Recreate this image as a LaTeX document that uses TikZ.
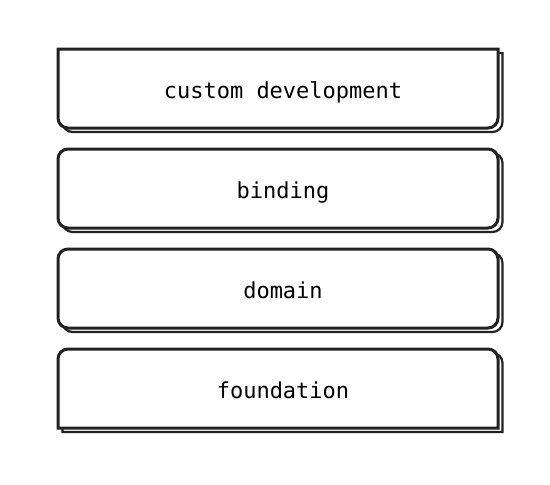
\documentclass[tikz,border=0pt]{standalone}
\usepackage{fontspec}
\setmonofont{DejaVu Sans Mono}
\usetikzlibrary{positioning,shadows,backgrounds}
\definecolor{boxline}{HTML}{222222}
\begin{document}
\begin{tikzpicture}[x=1pt,y=-1pt,
  every node/.style={font=\ttfamily\fontsize{22}{26}\selectfont},
  layer/.style={minimum width=440pt,minimum height=79pt,inner sep=0pt,outer sep=0pt,
    text height=19pt,text depth=0pt,execute at begin node=\hspace*{10pt}},
  box/.style={layer,draw=boxline,line width=3pt,fill=white,rounded corners=10pt,
    copy shadow={shadow xshift=4.5pt,shadow yshift=-4pt,draw=boxline,line width=2.2pt,fill=white}},
  edge/.style={draw=boxline,line width=3pt,fill=white,
    copy shadow={shadow xshift=4.5pt,shadow yshift=-4pt,draw=boxline,line width=2.2pt,fill=white}}]
\useasboundingbox (0,0) rectangle (550,485);
\node[layer] (custom) at (278,88.5) {custom development};
\node[box,below=21pt of custom] (binding) {binding};
\node[box,below=21pt of binding] (domain) {domain};
\node[layer,below=21pt of domain] (foundation) {foundation};
\begin{scope}[on background layer]
% top box: square top, round bottom
\draw[edge] (custom.north west) -- (custom.north east) -- ([yshift=10pt]custom.south east)
  arc[start angle=0,end angle=-90,radius=10pt] -- ([xshift=10pt]custom.south west)
  arc[start angle=270,end angle=180,radius=10pt] -- cycle;
% bottom box: round top, square bottom
\draw[edge] (foundation.south west) -- ([yshift=-10pt]foundation.north west)
  arc[start angle=180,end angle=90,radius=10pt] -- ([xshift=-10pt]foundation.north east)
  arc[start angle=90,end angle=0,radius=10pt] -- (foundation.south east) -- cycle;
\end{scope}
\end{tikzpicture}
\end{document}
